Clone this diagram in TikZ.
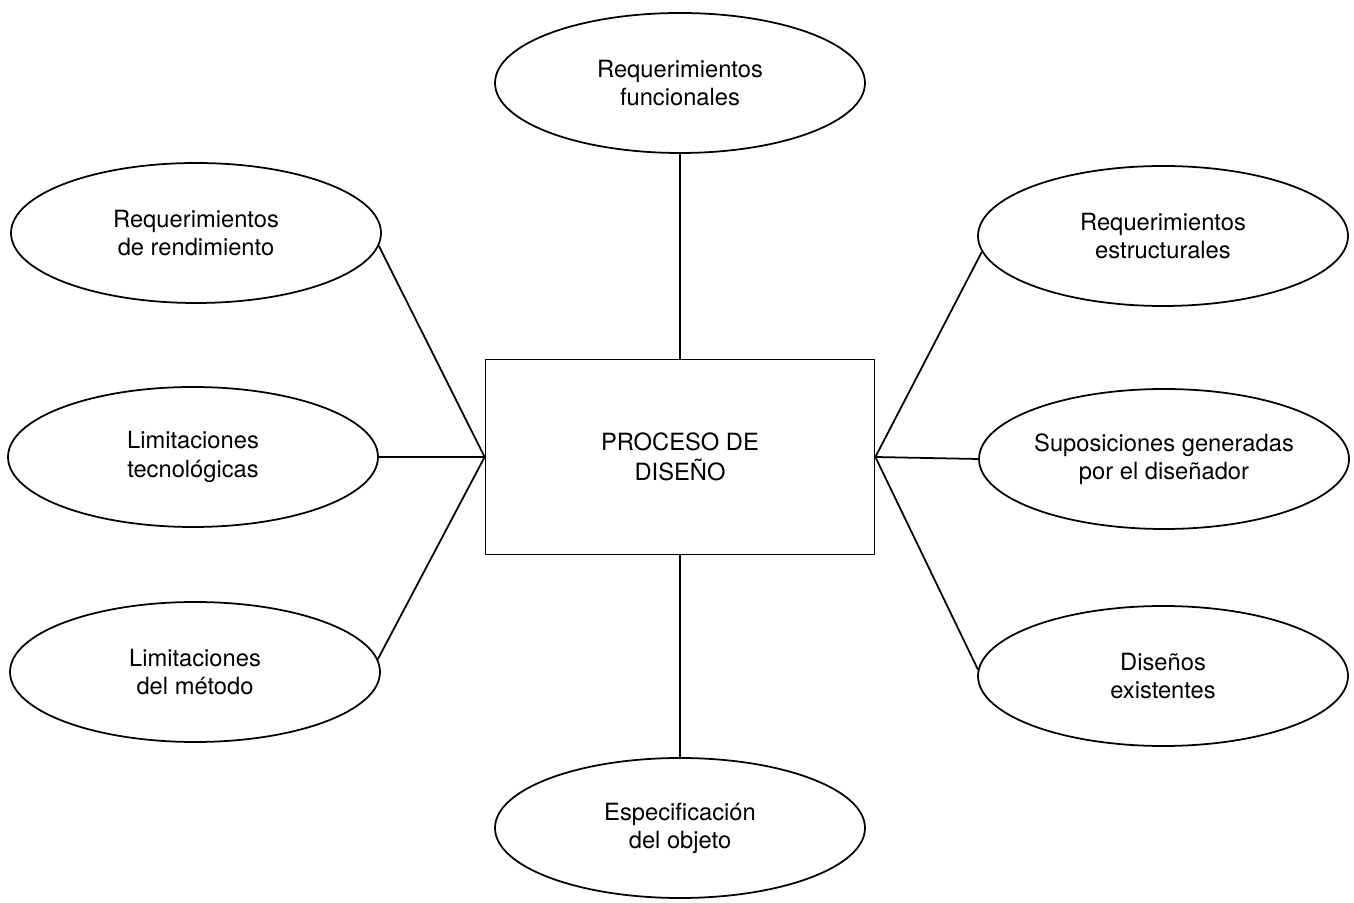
\documentclass[tikz,border=0pt]{standalone}
\usepackage{fontspec}
\setmainfont{TeX Gyre Heros}
\usetikzlibrary{shapes.geometric}

\tikzset{
  idea/.style={draw, ellipse, line width=1pt, minimum width=7.4cm, minimum height=2.8cm,
    inner sep=0pt, align=center, font=\fontsize{13.5}{16}\selectfont},
  proceso/.style={draw, rectangle, line width=1pt, minimum width=7.78cm, minimum height=3.9cm,
    align=center, font=\fontsize{13.5}{17}\selectfont},
  enlace/.style={line width=1pt}
}

\begin{document}
\begin{tikzpicture}
  \useasboundingbox (0,0) rectangle (27.08,18.04);
  \node[proceso] (proc) at (13.6,8.9) {PROCESO DE\\DISEÑO};
  \node[idea] (func) at (13.6,16.38) {Requerimientos\\funcionales};
  \node[idea] (rend) at (3.92,13.38) {Requerimientos\\de rendimiento};
  \node[idea] (tec) at (3.86,8.9) {Limitaciones\\tecnológicas};
  \node[idea] (meth) at (3.9,4.6) {Limitaciones\\del método};
  \node[idea] (estr) at (23.26,13.32) {Requerimientos\\estructurales};
  \node[idea] (sup) at (23.28,8.86) {Suposiciones generadas\\por el diseñador};
  \node[idea] (exist) at (23.26,4.52) {Diseños\\existentes};
  \node[idea] (espec) at (13.6,1.48) {Especificación\\del objeto};
  \draw[enlace] (func) -- (proc);
  \draw[enlace] (proc) -- (espec);
  \draw[enlace] (rend.-4) -- (proc.west);
  \draw[enlace] (tec.east) -- (proc.west);
  \draw[enlace] (meth.4) -- (proc.west);
  \draw[enlace] (estr.185) -- (proc.east);
  \draw[enlace] (sup.west) -- (proc.east);
  \draw[enlace] (exist.178) -- (proc.east);
\end{tikzpicture}
\end{document}
